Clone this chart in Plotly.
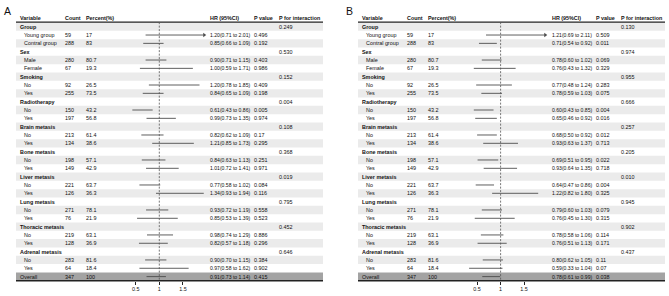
import plotly.graph_objects as go

W, H = 669, 296

# ---------------- data ----------------
groups = ["Group", "Sex", "Smoking", "Radiotherapy", "Brain metasis", "Bone metasis",
          "Liver metasis", "Lung metasis", "Thoracic metasis", "Adrenal metasis"]
subgroups = [["Young group", "Contral group"], ["Male", "Female"], ["No", "Yes"], ["No", "Yes"],
             ["No", "Yes"], ["No", "Yes"], ["No", "Yes"], ["No", "Yes"], ["No", "Yes"], ["No", "Yes"]]
counts = [[59, 288], [280, 67], [92, 255], [150, 197], [213, 134], [198, 149],
          [221, 126], [271, 76], [219, 128], [283, 64]]
percents = [["17", "83"], ["80.7", "19.3"], ["26.5", "73.5"], ["43.2", "56.8"], ["61.4", "38.6"],
            ["57.1", "42.9"], ["63.7", "36.3"], ["78.1", "21.9"], ["63.1", "36.9"], ["81.6", "18.4"]]
overall_count, overall_percent = 347, "100"

# Panel A
hr_a = [[1.20, 0.85], [0.90, 1.00], [1.20, 0.84], [0.61, 0.99], [0.82, 1.21],
        [0.84, 1.01], [0.77, 1.34], [0.93, 0.85], [0.98, 0.82], [0.90, 0.97]]
lo_a = [[0.71, 0.66], [0.71, 0.59], [0.78, 0.65], [0.43, 0.73], [0.62, 0.85],
        [0.63, 0.72], [0.58, 0.93], [0.72, 0.53], [0.74, 0.57], [0.70, 0.58]]
hi_a = [[2.01, 1.09], [1.15, 1.71], [1.85, 1.09], [0.86, 1.35], [1.09, 1.73],
        [1.13, 1.41], [1.02, 1.94], [1.19, 1.39], [1.29, 1.18], [1.15, 1.62]]
p_a = [["0.496", "0.192"], ["0.403", "0.986"], ["0.409", "0.198"], ["0.005", "0.974"], ["0.17", "0.295"],
       ["0.251", "0.971"], ["0.084", "0.116"], ["0.558", "0.523"], ["0.886", "0.296"], ["0.384", "0.902"]]
pint_a = ["0.249", "0.530", "0.152", "0.004", "0.108", "0.368", "0.019", "0.795", "0.452", "0.646"]
overall_a = (0.91, 0.73, 1.14, "0.415")

# Panel B
hr_b = [[1.21, 0.71], [0.78, 0.76], [0.77, 0.78], [0.60, 0.65], [0.68, 0.93],
        [0.69, 0.93], [0.64, 1.22], [0.79, 0.76], [0.78, 0.76], [0.80, 0.59]]
lo_b = [[0.69, 0.54], [0.60, 0.43], [0.48, 0.59], [0.43, 0.46], [0.50, 0.63],
        [0.51, 0.64], [0.47, 0.82], [0.60, 0.45], [0.58, 0.51], [0.62, 0.33]]
hi_b = [[2.11, 0.92], [1.02, 1.32], [1.24, 1.03], [0.85, 0.92], [0.92, 1.37],
        [0.95, 1.35], [0.86, 1.80], [1.03, 1.30], [1.06, 1.13], [1.05, 1.04]]
p_b = [["0.509", "0.011"], ["0.069", "0.329"], ["0.283", "0.075"], ["0.004", "0.016"], ["0.012", "0.713"],
       ["0.022", "0.718"], ["0.004", "0.325"], ["0.079", "0.315"], ["0.114", "0.171"], ["0.11", "0.07"]]
pint_b = ["0.130", "0.974", "0.955", "0.666", "0.257", "0.205", "0.010", "0.945", "0.902", "0.437"]
overall_b = (0.78, 0.61, 0.99, "0.038")

tick_vals = [0.5, 1, 1.5]
tick_text = ["0.5", "1", "1.5"]
x_clip = 1.95

# ---------------- layout constants ----------------
FONT = "Liberation Sans, Arial, sans-serif"
FS = 5.4
FS_HR = 5.1
ROW0 = 26.7      # pixel y of first row centre
PITCH = 8.33     # row height in px
N_ROWS = 31


def px(x):
    return x / W


def row_of(ypix):
    return (ypix - ROW0) / PITCH


fig = go.Figure()
shapes = []
annotations = []

panels = [
    dict(letter="A", off=0, hr=hr_a, lo=lo_a, hi=hi_a, p=p_a, pint=pint_a, overall=overall_a,
         one=159.3, scale=47.3, xa="x", ya="y", axname="xaxis"),
    dict(letter="B", off=342, hr=hr_b, lo=lo_b, hi=hi_b, p=p_b, pint=pint_b, overall=overall_b,
         one=500.6, scale=47.0, xa="x2", ya="y", axname="xaxis2"),
]


def fmt_ci(h, l, u):
    return f"{h:.2f}({l:.2f} to {u:.2f})"


for P in panels:
    off = P["off"]
    left, right = 16 + off, 323 + off
    cols = dict(var=17.5 + off, sub=21.7 + off, count=62.7 + off, pct=84.3 + off,
                hr=207.7 + off, p=252.3 + off, pint=277.0 + off)

    rows = []
    for g in range(len(groups)):
        rows.append(dict(label=groups[g], bold=True, pint=P["pint"][g]))
        for s in range(2):
            rows.append(dict(label=subgroups[g][s], bold=False, count=str(counts[g][s]),
                             pct=percents[g][s], hr=P["hr"][g][s], lo=P["lo"][g][s],
                             hi=P["hi"][g][s], p=P["p"][g][s]))
    oh, ol, ou, op = P["overall"]
    rows.append(dict(label="Overall", bold=False, overall=True, count=str(overall_count),
                     pct=overall_percent, hr=oh, lo=ol, hi=ou, p=op))

    for i, r in enumerate(rows):
        if r.get("overall"):
            col = "#a3a3a3"
        elif i % 2 == 0:
            col = "#ebebeb"
        else:
            continue
        shapes.append(dict(type="rect", xref="paper", yref="y", x0=px(left), x1=px(right),
                           y0=i - 0.5, y1=i + 0.5, fillcolor=col, line=dict(width=0), layer="below"))

    shapes.append(dict(type="line", xref="paper", yref="y", x0=px(left), x1=px(right),
                       y0=-0.55, y1=-0.55, line=dict(color="#222222", width=1.4)))
    shapes.append(dict(type="line", xref="paper", yref="y", x0=px(left), x1=px(right),
                       y0=N_ROWS - 0.5, y1=N_ROWS - 0.5, line=dict(color="#222222", width=1.4)))

    shapes.append(dict(type="line", xref=P["xa"], yref="y", x0=1, x1=1,
                       y0=-0.55, y1=N_ROWS - 0.5, line=dict(color="#555555", width=0.8, dash="2px,1.5px")))

    def txt(x, row, s, bold=False, size=FS):
        annotations.append(dict(xref="paper", yref="y", x=px(x), y=row, text=f"<b>{s}</b>" if bold else s,
                                showarrow=False, xanchor="left", yanchor="middle",
                                font=dict(family=FONT, size=size, color="#111111")))

    hdr = -1
    txt(cols["var"], hdr, "Variable", True)
    txt(cols["count"], hdr, "Count", True)
    txt(cols["pct"], hdr, "Percent(%)", True)
    txt(cols["hr"], hdr, "HR (95%CI)", True)
    txt(cols["p"], hdr, "P value", True)
    txt(cols["pint"], hdr, "P for interaction", True)

    annotations.append(dict(xref="paper", yref="paper", x=px(1.5 + off), y=1 - 11.5 / H, text=P["letter"],
                            showarrow=False, xanchor="left", yanchor="middle",
                            font=dict(family=FONT, size=10.5, color="#111111")))

    xs, ys, axs, ays = [], [], [], []
    for i, r in enumerate(rows):
        if r["bold"]:
            txt(cols["var"], i, r["label"], True)
            txt(cols["pint"], i, r["pint"])
            continue
        txt(cols["var"] if r.get("overall") else cols["sub"], i, r["label"])
        txt(cols["count"], i, r["count"])
        txt(cols["pct"], i, r["pct"])
        txt(cols["hr"], i, fmt_ci(r["hr"], r["lo"], r["hi"]), size=FS_HR)
        txt(cols["p"], i, r["p"])
        u = r["hi"]
        if u > x_clip:
            u = x_clip
            axs.append(u)
            ays.append(i)
        xs += [r["lo"], u, None]
        ys += [i, i, None]

    fig.add_trace(go.Scatter(x=xs, y=ys, mode="lines", xaxis=P["xa"], yaxis="y",
                             line=dict(color="#4d4d4d", width=0.9), hoverinfo="skip", showlegend=False))
    if axs:
        fig.add_trace(go.Scatter(x=axs, y=ays, mode="markers", xaxis=P["xa"], yaxis="y",
                                 marker=dict(symbol="triangle-right", size=4, color="#4d4d4d"),
                                 hoverinfo="skip", showlegend=False))

    d0, d1 = 100 + off, 215 + off
    r0 = 1 + (d0 - P["one"]) / P["scale"]
    r1 = 1 + (d1 - P["one"]) / P["scale"]
    fig.update_layout(**{P["axname"]: dict(
        domain=[px(d0), px(d1)], range=[r0, r1], anchor="free", position=1 - 280.6 / H,
        showgrid=False, zeroline=False, showline=False, ticks="outside", ticklen=3,
        tickwidth=0.8, tickcolor="#222222", tickvals=tick_vals, ticktext=tick_text,
        tickfont=dict(family=FONT, size=FS, color="#111111"), fixedrange=True)})

fig.update_layout(
    width=W, height=H, margin=dict(l=0, r=0, t=0, b=0),
    paper_bgcolor="white", plot_bgcolor="rgba(0,0,0,0)",
    yaxis=dict(domain=[0, 1], range=[row_of(H), row_of(0)], visible=False, fixedrange=True),
    shapes=shapes, annotations=annotations, showlegend=False,
)

fig.write_html("out.html", config={"displayModeBar": False},
               post_script="document.body.style.margin='0';document.body.style.overflow='hidden';")
